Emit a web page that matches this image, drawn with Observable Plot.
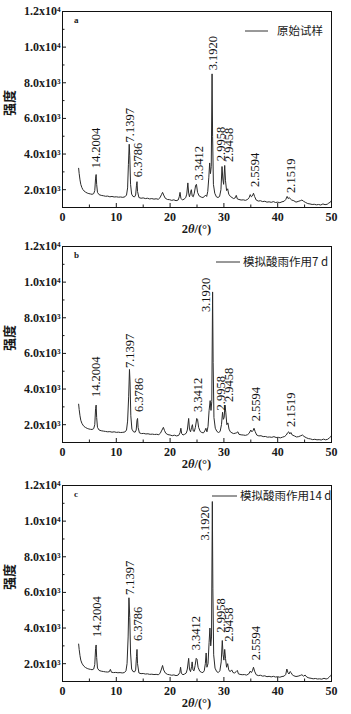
<!DOCTYPE html>
<html>
<head>
<meta charset="utf-8">
<script src="https://cdn.jsdelivr.net/npm/d3@7"></script>
<script src="https://cdn.jsdelivr.net/npm/@observablehq/plot@0.6"></script>
<style>
  html, body { margin: 0; padding: 0; background: #fff; }
  #wrap { position: relative; width: 351px; height: 714px; overflow: hidden; }
  .panel { position: absolute; left: 0; }
</style>
</head>
<body>
<div id="wrap"></div>
<script>
// ---------- data ----------
const panelLetters = ["a", "b", "c"];
const legendNames = ["原始试样", "模拟酸雨作用7 d", "模拟酸雨作用14 d"];
const yTicks = [2000, 4000, 6000, 8000, 10000, 12000];
const yTickLabels = ["2.0x10³", "4.0x10³", "6.0x10³", "8.0x10³", "1.0x10⁴", "1.2x10⁴"];
const yMinorTicks = [1000, 3000, 5000, 7000, 9000, 11000];
const xTicks = [0, 10, 20, 30, 40, 50];
const xMinorTicks = [5, 15, 25, 35, 45];

const patternA = [[3.0,3200],[3.1,2900],[3.25,2550],[3.4,2300],[3.6,2120],[3.8,2000],[4.0,1930],[4.3,1860],[4.6,1810],[4.9,1780],[5.2,1760],[5.5,1740],[5.8,1780],[6.0,1950],[6.15,2650],[6.25,2850],[6.35,2300],[6.5,1850],[6.8,1720],[7.2,1680],[7.6,1660],[8.0,1630],[8.4,1640],[8.8,1600],[9.2,1620],[9.6,1590],[10.0,1600],[10.4,1580],[10.8,1590],[11.2,1570],[11.6,1600],[11.9,1700],[12.1,2100],[12.25,3400],[12.4,4550],[12.5,3900],[12.65,2300],[12.85,1750],[13.1,1620],[13.4,1600],[13.6,1700],[13.75,2250],[13.85,2450],[13.95,1900],[14.2,1560],[14.6,1520],[15.0,1540],[15.4,1500],[15.8,1520],[16.2,1480],[16.6,1500],[17.0,1470],[17.4,1490],[17.8,1460],[18.1,1540],[18.4,1720],[18.6,1850],[18.8,1700],[19.1,1520],[19.5,1450],[19.9,1440],[20.3,1400],[20.7,1430],[21.1,1380],[21.5,1420],[21.7,1600],[21.85,1850],[22.0,1520],[22.3,1420],[22.6,1470],[22.9,1550],[23.1,1750],[23.3,2380],[23.45,1800],[23.6,1600],[23.8,1850],[23.95,2000],[24.1,1650],[24.3,1600],[24.5,1800],[24.75,2250],[24.9,2300],[25.1,1850],[25.4,1650],[25.8,1580],[26.1,1560],[26.4,1620],[26.6,1700],[26.8,1620],[27.0,1900],[27.2,2700],[27.35,3500],[27.5,2900],[27.65,3300],[27.8,8500],[27.9,5000],[28.05,2300],[28.3,1800],[28.6,1600],[28.9,1560],[29.2,1620],[29.45,2000],[29.65,3300],[29.8,2600],[29.95,2300],[30.15,3360],[30.3,2500],[30.5,1950],[30.7,2050],[30.9,1750],[31.2,1620],[31.5,1560],[31.8,1500],[32.1,1540],[32.3,1680],[32.5,1480],[32.8,1450],[33.2,1420],[33.6,1430],[34.0,1400],[34.4,1450],[34.7,1560],[34.9,1720],[35.1,1600],[35.3,1650],[35.5,1800],[35.7,1620],[36.0,1420],[36.4,1360],[36.8,1380],[37.2,1330],[37.6,1350],[38.0,1300],[38.4,1320],[38.8,1290],[39.2,1330],[39.6,1280],[40.0,1300],[40.4,1270],[40.8,1320],[41.2,1350],[41.5,1450],[41.75,1620],[41.95,1500],[42.15,1560],[42.35,1480],[42.6,1420],[43.0,1380],[43.4,1300],[43.8,1340],[44.2,1380],[44.5,1420],[44.8,1350],[45.2,1280],[45.6,1220],[46.0,1200],[46.4,1170],[46.8,1180],[47.2,1150],[47.6,1170],[48.0,1140],[48.4,1200],[48.8,1160],[49.2,1180],[49.5,1250],[49.8,1300],[50.0,1400]];

const patternB = [[3.0,3150],[3.1,2850],[3.25,2500],[3.4,2250],[3.6,2080],[3.8,1980],[4.0,1900],[4.3,1840],[4.6,1790],[4.9,1760],[5.2,1740],[5.5,1730],[5.8,1780],[6.0,2000],[6.15,2900],[6.25,3100],[6.35,2400],[6.5,1850],[6.8,1700],[7.2,1660],[7.6,1640],[8.0,1620],[8.4,1600],[8.8,1610],[9.2,1580],[9.6,1600],[10.0,1570],[10.4,1580],[10.8,1560],[11.2,1570],[11.6,1590],[11.9,1700],[12.1,2200],[12.3,3600],[12.45,5100],[12.55,4400],[12.7,2500],[12.9,1750],[13.2,1600],[13.5,1580],[13.7,1700],[13.85,2250],[13.95,2350],[14.05,1850],[14.3,1540],[14.7,1500],[15.1,1510],[15.5,1480],[15.9,1490],[16.3,1460],[16.7,1470],[17.1,1450],[17.5,1460],[17.9,1440],[18.2,1520],[18.5,1700],[18.75,1850],[18.95,1680],[19.2,1520],[19.6,1440],[20.0,1420],[20.4,1380],[20.8,1410],[21.2,1370],[21.6,1400],[21.85,1550],[22.0,1800],[22.15,1500],[22.4,1420],[22.7,1460],[23.0,1520],[23.2,1700],[23.45,2350],[23.6,1750],[23.8,1600],[24.0,1850],[24.15,2000],[24.3,1650],[24.5,1620],[24.7,1850],[24.95,2350],[25.1,2300],[25.3,1850],[25.6,1620],[25.9,1560],[26.2,1540],[26.45,1650],[26.65,1800],[26.85,1600],[27.05,1900],[27.25,2800],[27.45,3350],[27.6,2800],[27.75,3300],[27.9,9450],[28.0,5500],[28.15,2400],[28.4,1800],[28.7,1620],[29.0,1560],[29.3,1620],[29.55,2000],[29.75,2700],[29.9,2300],[30.05,2400],[30.2,3100],[30.35,2700],[30.55,2000],[30.75,2100],[30.95,1750],[31.2,1600],[31.5,1540],[31.8,1500],[32.1,1520],[32.4,1550],[32.6,1600],[32.8,1460],[33.2,1430],[33.6,1420],[34.0,1400],[34.4,1440],[34.7,1520],[35.0,1700],[35.2,1600],[35.4,1660],[35.6,1800],[35.8,1620],[36.1,1420],[36.5,1370],[36.9,1380],[37.3,1330],[37.7,1340],[38.1,1300],[38.5,1310],[38.9,1290],[39.3,1330],[39.7,1280],[40.1,1290],[40.5,1260],[40.9,1300],[41.3,1340],[41.6,1420],[41.85,1550],[42.05,1600],[42.25,1480],[42.45,1560],[42.7,1420],[43.1,1370],[43.5,1310],[43.9,1330],[44.3,1380],[44.6,1420],[44.9,1340],[45.3,1270],[45.7,1220],[46.1,1200],[46.5,1160],[46.9,1180],[47.3,1150],[47.7,1160],[48.1,1140],[48.5,1190],[48.9,1150],[49.3,1180],[49.6,1260],[49.85,1320],[50.0,1400]];

const patternC = [[3.0,3100],[3.1,2800],[3.25,2450],[3.4,2200],[3.6,2030],[3.8,1930],[4.0,1850],[4.3,1780],[4.6,1730],[4.9,1700],[5.2,1680],[5.5,1660],[5.8,1700],[6.0,1950],[6.15,2850],[6.25,3050],[6.35,2350],[6.5,1750],[6.8,1620],[7.2,1580],[7.6,1560],[8.0,1540],[8.4,1530],[8.7,1550],[8.9,1680],[9.1,1520],[9.5,1500],[9.9,1510],[10.3,1490],[10.7,1500],[11.1,1480],[11.5,1500],[11.8,1600],[12.0,2000],[12.2,3500],[12.35,5700],[12.5,4600],[12.65,2600],[12.85,1700],[13.1,1560],[13.4,1540],[13.6,1650],[13.75,2400],[13.85,2800],[13.95,2000],[14.2,1480],[14.6,1440],[15.0,1450],[15.4,1420],[15.8,1430],[16.2,1400],[16.6,1410],[17.0,1390],[17.4,1400],[17.8,1380],[18.1,1450],[18.4,1700],[18.6,1900],[18.8,1650],[19.1,1480],[19.5,1400],[19.9,1380],[20.3,1350],[20.7,1370],[21.1,1330],[21.5,1360],[21.8,1500],[21.95,1800],[22.1,1450],[22.4,1380],[22.7,1420],[23.0,1480],[23.2,1700],[23.45,2300],[23.6,1700],[23.8,1550],[24.0,1850],[24.1,2100],[24.25,1650],[24.45,1600],[24.65,1900],[24.85,2300],[25.0,2250],[25.2,1800],[25.5,1580],[25.8,1520],[26.1,1500],[26.35,1600],[26.55,2000],[26.7,2600],[26.85,1800],[27.05,2000],[27.25,3200],[27.4,4000],[27.55,3000],[27.7,3500],[27.85,11100],[27.95,6200],[28.1,2500],[28.35,1750],[28.65,1560],[28.95,1500],[29.25,1600],[29.5,2100],[29.7,3300],[29.85,2500],[30.0,2200],[30.15,2800],[30.3,2300],[30.5,1800],[30.7,2000],[30.9,1650],[31.15,1550],[31.45,1650],[31.7,1500],[32.0,1480],[32.3,1560],[32.5,1620],[32.7,1430],[33.0,1400],[33.4,1380],[33.8,1390],[34.2,1360],[34.6,1420],[34.9,1580],[35.1,1500],[35.3,1600],[35.5,1800],[35.7,1580],[36.0,1380],[36.4,1330],[36.8,1350],[37.2,1300],[37.6,1320],[38.0,1270],[38.4,1290],[38.8,1260],[39.2,1290],[39.6,1250],[40.0,1270],[40.4,1240],[40.8,1280],[41.2,1300],[41.5,1400],[41.7,1700],[41.9,1500],[42.1,1420],[42.3,1560],[42.5,1500],[42.7,1380],[43.0,1320],[43.4,1280],[43.8,1300],[44.2,1340],[44.5,1380],[44.8,1300],[45.1,1360],[45.4,1250],[45.8,1200],[46.2,1180],[46.6,1150],[47.0,1170],[47.4,1140],[47.8,1150],[48.2,1130],[48.6,1180],[49.0,1140],[49.3,1170],[49.6,1250],[49.85,1330],[50.0,1400]];

// peak annotations: [2θ, intensity where the label starts, d-spacing text]
const peaksA = [[6.2,3200,"14.2004"],[12.5,4650,"7.1397"],[14.1,2700,"6.3786"],[25.4,2520,"3.3412"],[27.9,8700,"3.1920"],[29.4,3600,"2.9958"],[31.0,3550,"2.9458"],[35.7,2150,"2.5594"],[42.5,1820,"2.1519"]];
const peaksB = [[6.2,3550,"14.2004"],[12.6,5180,"7.1397"],[14.2,2710,"6.3786"],[25.2,2710,"3.3412"],[26.7,8320,"3.1920"],[29.5,2800,"2.9958"],[30.9,3270,"2.9458"],[35.9,2190,"2.5594"],[42.5,1870,"2.1519"]];
const peaksC = [[6.4,3500,"14.2004"],[12.6,5850,"7.1397"],[14.0,3270,"6.3786"],[24.9,2750,"3.3412"],[26.4,8920,"3.1920"],[29.4,3740,"2.9958"],[31.0,3230,"2.9458"],[36.0,2190,"2.5594"]];

const patterns = [patternA, patternB, patternC];
const peaks = [peaksA, peaksB, peaksC];

// ---------- layout ----------
const W = 351, mL = 62, mR = 20, mT = 11, mB = 33, plotH = 196;
const H = mT + plotH + mB;
const tops = [0, 235, 474];
const legendLayout = [
  {lx1: 183, lx2: 206, dy: 20, tx: 215},
  {lx1: 154, lx2: 178, dy: 16, tx: 181},
  {lx1: 150, lx2: 175, dy: 11, tx: 178}
];
const serif = "'Liberation Serif', 'DejaVu Serif', serif";
const cjk = "'Noto Sans CJK SC', 'Liberation Serif', serif";
const ink = "#1a1a1a";

const wrap = document.getElementById("wrap");

patterns.forEach((pat, i) => {
  const innerW = W - mL - mR;
  const plot = Plot.plot({
    width: W, height: H,
    marginLeft: mL, marginRight: mR, marginTop: mT, marginBottom: mB,
    style: {fontFamily: serif, background: "transparent", color: ink},
    x: {domain: [0, 50]},
    y: {domain: [1000, 12000]},
    marks: [
      Plot.line(pat, {x: d => d[0], y: d => d[1], stroke: "#2a2a2a", strokeWidth: 1}),
      Plot.text(peaks[i], {x: d => d[0], y: d => d[1], text: d => d[2], rotate: -90,
        textAnchor: "start", fontSize: 12.5, fontFamily: serif, fill: "#111"}),
      // inward ticks
      Plot.tickY(yTicks, {y: d => d, insetRight: innerW - 4, stroke: ink, strokeWidth: 1}),
      Plot.tickY(yMinorTicks, {y: d => d, insetRight: innerW - 2.5, stroke: ink, strokeWidth: 1}),
      Plot.tickX(xTicks, {x: d => d, insetTop: plotH - 4, stroke: ink, strokeWidth: 1}),
      Plot.tickX(xMinorTicks, {x: d => d, insetTop: plotH - 2.5, stroke: ink, strokeWidth: 1}),
      Plot.axisY(yTicks, {tickSize: 0, tickPadding: 2, tickFormat: d => yTickLabels[yTicks.indexOf(d)],
        label: null, fontSize: 12, fontWeight: "bold", fill: ink}),
      Plot.axisX(xTicks, {tickSize: 0, tickPadding: 5, label: null, fontSize: 12, fontWeight: "bold", fill: ink}),
      Plot.frame({stroke: "#111", strokeWidth: 1})
    ]
  });
  const div = document.createElement("div");
  div.className = "panel";
  div.style.top = tops[i] + "px";
  div.appendChild(plot);
  wrap.appendChild(div);

  const svg = d3.select(plot);
  // panel letter
  svg.append("text").attr("x", mL + 12).attr("y", mT + 12).attr("text-anchor", "start")
    .attr("font-family", serif).attr("font-size", 9).attr("font-weight", "bold")
    .attr("fill", ink).text(panelLetters[i]);
  // legend
  const L = legendLayout[i];
  svg.append("line").attr("x1", mL + L.lx1).attr("x2", mL + L.lx2)
    .attr("y1", mT + L.dy).attr("y2", mT + L.dy)
    .attr("stroke", "#333").attr("stroke-width", 1);
  svg.append("text").attr("x", mL + L.tx).attr("y", mT + L.dy + 4.2).attr("text-anchor", "start")
    .attr("font-family", cjk).attr("font-size", 11.5).attr("fill", ink)
    .text(legendNames[i]);
  // y label
  svg.append("text").attr("transform", `translate(14,${mT + plotH / 2 - 6}) rotate(-90)`)
    .attr("text-anchor", "middle").attr("font-family", cjk).attr("font-size", 13)
    .attr("font-weight", "bold").attr("fill", ink).text("强度");
  // x label
  const xl = svg.append("text").attr("x", mL + innerW / 2).attr("y", mT + plotH + 26)
    .attr("text-anchor", "middle").attr("font-family", serif).attr("font-size", 12.5)
    .attr("font-weight", "bold").attr("fill", ink);
  xl.append("tspan").text("2");
  xl.append("tspan").attr("font-style", "italic").text("θ");
  xl.append("tspan").text("/(°)");
});
</script>
</body>
</html>
